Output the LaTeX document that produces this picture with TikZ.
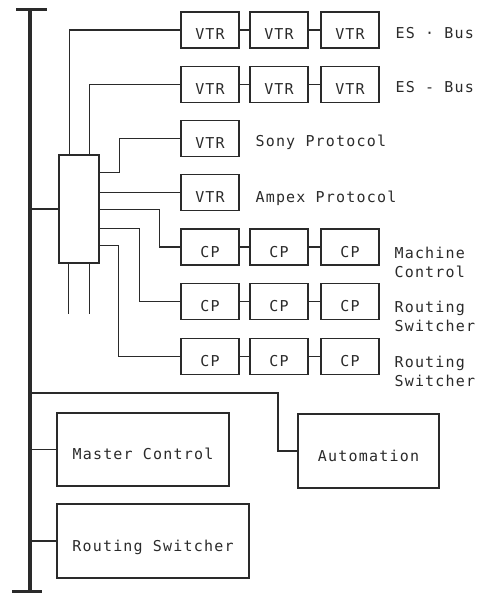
\documentclass[tikz,border=0pt]{standalone}
\usepackage{fontspec}
\newfontfamily\diagfont[LetterSpace=8]{DejaVu Sans Mono}
\usetikzlibrary{positioning,calc}
\definecolor{cInk}{HTML}{2a2a2a}

\begin{document}
\begin{tikzpicture}[x=1pt,y=-1pt,color=cInk,line width=1.1pt,
    unit/.style={draw,minimum width=58pt,minimum height=36pt,inner sep=0pt,
      text height=20pt,text depth=0pt,
      font=\diagfont\fontsize{15}{19}\selectfont},
    tag/.style={anchor=base west,inner sep=0pt,font=\diagfont\fontsize{15}{19}\selectfont},
    tagtwo/.style={anchor=north west,inner sep=0pt,align=left,
      font=\diagfont\fontsize{15}{19}\selectfont}]
        \useasboundingbox (0,0) rectangle (477,593);
        % main bus
        \coordinate (bustop) at (30,10);
        \coordinate (busbot) at (30,591);
        \coordinate (autotap) at (30,393);
        \draw[line width=3.5pt] (bustop) -- (busbot);
        \draw[line width=3pt] ([xshift=-14pt]bustop) -- ([xshift=17pt]bustop);
        \draw[line width=3pt] ([xshift=-18pt]busbot) -- ([xshift=12pt]busbot);
        % interface unit
        \node[draw,minimum width=40pt,minimum height=108pt] (hub) at (79,209) {};
        \draw (bustop |- hub.west) -- (hub.west);
        \draw ([xshift=10pt]hub.south west) -- ++(0,50);
        \draw ([xshift=-10pt]hub.south east) -- ++(0,50);
        % ES bus chains
        \node[unit] (v11) at (210,30) {VTR};
        \node[unit] (v12) at (279,30) {VTR};
        \node[unit] (v13) at (350,30) {VTR};
        \node[unit] (v21) at (210,84.5) {VTR};
        \node[unit] (v22) at (279,84.5) {VTR};
        \node[unit] (v23) at (350,84.5) {VTR};
        \draw (v11) -- (v12); \draw (v12) -- (v13);
        \draw (v21) -- (v22); \draw (v22) -- (v23);
        \node[tag] (es1) at (395,39) {ES · Bus};
        \node[tag] (es2) at (395,93) {ES - Bus};
        \draw ([xshift=11pt]hub.north west) |- (v11.west);
        \draw ([xshift=-10pt]hub.north east) |- (v21.west);
        % single decks
        \node[unit] (sony) at (210,138.5) {VTR};
        \node[unit] (ampex) at (210,192.5) {VTR};
        \node[tag] (sonyt) at (255,147) {Sony Protocol};
        \node[tag] (ampext) at (255,203) {Ampex Protocol};
        \draw ([yshift=-18pt]hub.north east) -- ++(20,0) |- (sony.west);
        \draw (hub.east |- ampex.west) -- (ampex.west);
        % control panels
        \node[unit] (cp11) at (210,247) {CP};
        \node[unit] (cp12) at (279,247) {CP};
        \node[unit] (cp13) at (350,247) {CP};
        \node[unit] (cp21) at (210,301.5) {CP};
        \node[unit] (cp22) at (279,301.5) {CP};
        \node[unit] (cp23) at (350,301.5) {CP};
        \node[unit] (cp31) at (210,356.5) {CP};
        \node[unit] (cp32) at (279,356.5) {CP};
        \node[unit] (cp33) at (350,356.5) {CP};
        \draw (cp11) -- (cp12); \draw (cp12) -- (cp13);
        \draw (cp21) -- (cp22); \draw (cp22) -- (cp23);
        \draw (cp31) -- (cp32); \draw (cp32) -- (cp33);
        \node[tagtwo] (mct) at (394,246.5) {Machine\\Control};
        \node[tagtwo] (rs1) at (394,301) {Routing\\Switcher};
        \node[tagtwo] (rs2) at (394,356) {Routing\\Switcher};
        \draw ([yshift=-55pt]hub.north east) -- ++(60,0) |- (cp11.west);
        \draw ([yshift=-74pt]hub.north east) -- ++(40,0) |- (cp21.west);
        \draw ([yshift=-91pt]hub.north east) -- ++(19,0) |- (cp31.west);
        % station systems
        \node[unit,minimum width=172pt,minimum height=73pt] (master) at (143,449.5) {Master Control};
        \node[unit,minimum width=192pt,minimum height=74pt] (router) at (153,541) {Routing Switcher};
        \node[unit,minimum width=141pt,minimum height=74pt] (auto) at (368.5,451) {Automation};
        \draw (bustop |- master.west) -- (master.west);
        \draw (bustop |- router.west) -- (router.west);
        \draw (autotap) -- ++(248,0) |- (auto.west);
      \end{tikzpicture}
\end{document}
